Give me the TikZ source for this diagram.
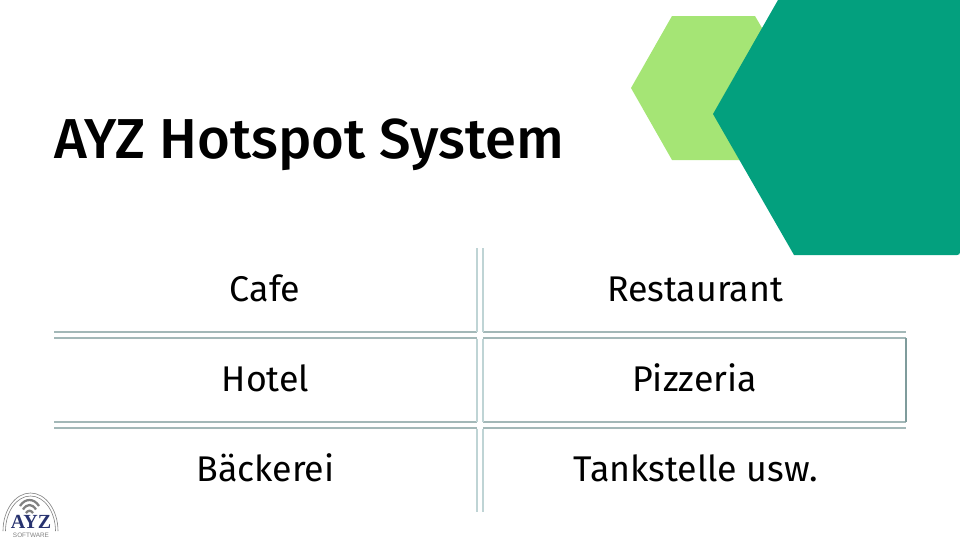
\documentclass[tikz,border=0pt]{standalone}
\usepackage{fontspec}
\setmainfont{Fira Sans}
\newfontfamily\titlefont{Fira Sans Medium}
\newfontfamily\logoserif{Liberation Serif}
\newfontfamily\logosans{Liberation Sans}
\definecolor{darkgreen}{HTML}{03A07E}
\definecolor{lightgreen}{HTML}{A5E575}
\definecolor{rulehoriz}{HTML}{A3B8B8}
\definecolor{rulevert}{HTML}{BFD4D5}
\definecolor{ruleedge}{HTML}{7F9C9C}
\definecolor{logonavy}{HTML}{27326F}
\definecolor{logogrey}{HTML}{808080}
\tikzset{
  cell/.style={font=\fontsize{26.8}{32}\selectfont, text=black, anchor=base, inner sep=0pt},
  hrule/.style={draw=rulehoriz, line width=1.1pt},
  vrule/.style={draw=rulevert, line width=1.5pt},
  edgerule/.style={draw=ruleedge, line width=0.9pt},
  logoarc/.style={draw=logogrey, line width=0.45pt},
  wifi/.style={draw=logogrey, line width=1.7pt}
}
\begin{document}
\begin{tikzpicture}[x=0.75pt,y=-0.75pt]
\useasboundingbox (0,0) rectangle (960,540);
% hexagons
\fill[lightgreen] (672,16) -- (755,16) -- (797,88) -- (755,160) -- (672,160) -- (631,88) -- cycle;
\fill[darkgreen] (778,0) -- (960,0) -- (960,252) .. controls (960,254) and (959,255) .. (957,255) -- (794,255) -- (713,114) -- cycle;
% title
\node[font=\titlefont\fontsize{42.2}{48}\selectfont, anchor=base west, inner sep=0pt] (title) at (54,158) {AYZ Hotspot System};
% table rules
\foreach \y in {332,338,422,428} {
  \draw[hrule] (54,\y) -- (476.8,\y);
  \draw[hrule] (483.2,\y) -- (906,\y);
}
\foreach \x in {477,483} {
  \draw[vrule] (\x,248) -- (\x,331.5);
  \draw[vrule] (\x,338.5) -- (\x,421.5);
  \draw[vrule] (\x,428.5) -- (\x,512);
}
\draw[edgerule] (906,338) -- (906,422);
% cells
\node[cell] (cafe) at (265,301.8) {Cafe};
\node[cell] (restaurant) at (695,301.8) {Restaurant};
\node[cell] (hotel) at (265.5,391.8) {Hotel};
\node[cell] (pizzeria) at (694.5,391.8) {Pizzeria};
\node[cell] (baeckerei) at (265.5,481.8) {Bäckerei};
\node[cell] (tankstelle) at (695.5,481.8) {Tankstelle usw.};
% logo
\draw[logoarc] (3,531) arc[start angle=180,end angle=0,x radius=27.5,y radius=-38];
\draw[logoarc] (5.5,531) arc[start angle=180,end angle=0,x radius=25,y radius=-35];
\draw[wifi] (20,506) .. controls (25,498) and (34,498) .. (39,506);
\draw[wifi] (23,509.5) .. controls (27,503.5) and (32,503.5) .. (36,509.5);
\draw[wifi] (26,513) .. controls (28,510) and (31,510) .. (33,513);
\node[font=\logoserif\bfseries\fontsize{15}{15}\selectfont, text=logonavy, inner sep=0pt, anchor=base] (ayz) at (31,528.5) {AYZ};
\node[font=\logosans\fontsize{4.8}{5}\selectfont, text=logogrey, inner sep=0pt, anchor=base] (software) at (31,537) {SOFTWARE};
\end{tikzpicture}
\end{document}
